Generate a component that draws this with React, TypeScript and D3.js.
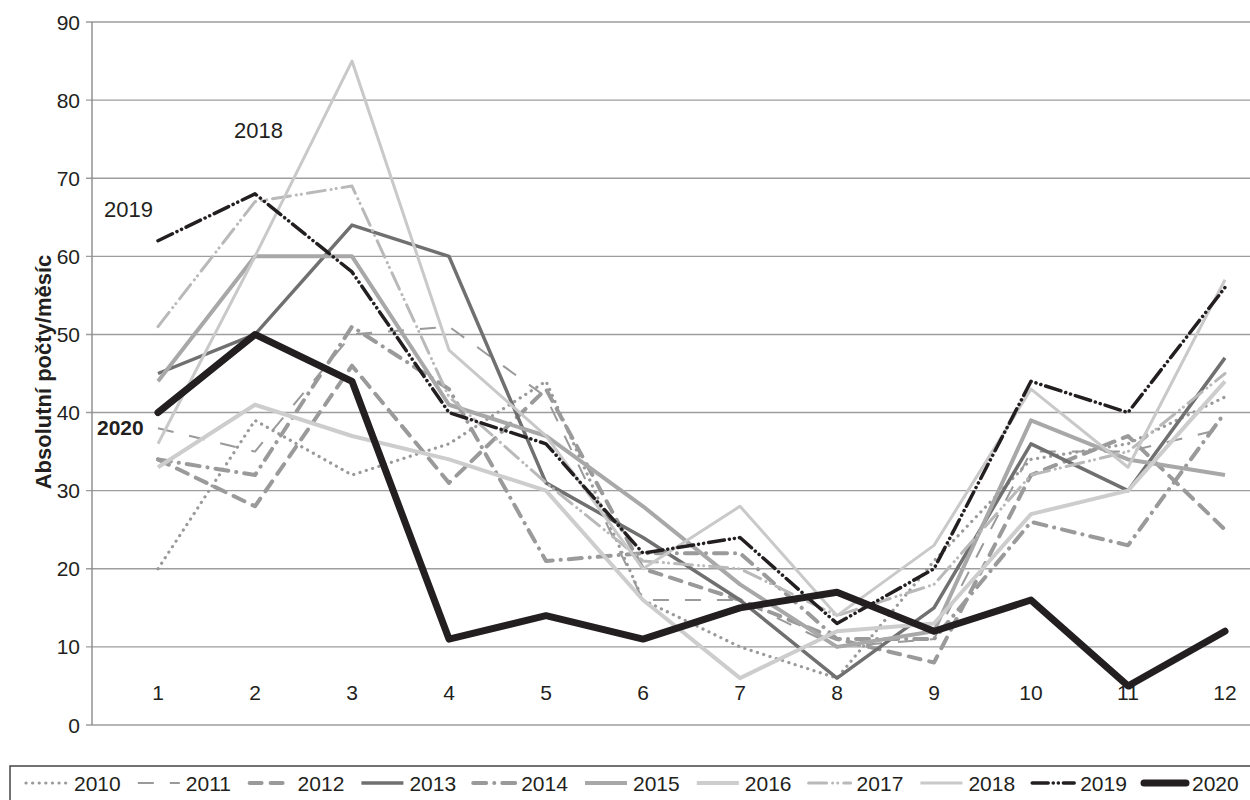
import React from "react";
import * as d3 from "d3";

const months = [1, 2, 3, 4, 5, 6, 7, 8, 9, 10, 11, 12];
const yTicks = [0, 10, 20, 30, 40, 50, 60, 70, 80, 90];

const years = ["2010", "2011", "2012", "2013", "2014", "2015", "2016", "2017", "2018", "2019", "2020"];

const v2010 = [20, 39, 32, 36, 44, 16, 10, 6, 21, 34, 36, 42];
const v2011 = [38, 35, 50, 51, 42, 16, 16, 10, 11, 35, 35, 38];
const v2012 = [34, 28, 46, 31, 43, 20, 16, 11, 8, 32, 37, 25];
const v2013 = [45, 50, 64, 60, 31, 24, 16, 6, 15, 36, 30, 47];
const v2014 = [34, 32, 51, 43, 21, 22, 22, 11, 11, 26, 23, 40];
const v2015 = [44, 60, 60, 41, 37, 28, 18, 10, 12, 39, 34, 32];
const v2016 = [33, 41, 37, 34, 30, 16, 6, 12, 13, 27, 30, 44];
const v2017 = [51, 67, 69, 42, 31, 21, 20, 14, 18, 32, 35, 45];
const v2018 = [36, 60, 85, 48, 37, 20, 28, 14, 23, 43, 33, 57];
const v2019 = [62, 68, 58, 40, 36, 22, 24, 13, 20, 44, 40, 56];
const v2020 = [40, 50, 44, 11, 14, 11, 15, 17, 12, 16, 5, 12];

const seriesValues = [v2010, v2011, v2012, v2013, v2014, v2015, v2016, v2017, v2018, v2019, v2020];

const styles = [
  { color: "#9a9a9a", width: 3.2, dash: "0.1 6.5", cap: "round" },
  { color: "#9a9a9a", width: 2, dash: "16 16", cap: "butt" },
  { color: "#9a9a9a", width: 4, dash: "12 9", cap: "round" },
  { color: "#707070", width: 3.5, dash: "", cap: "butt" },
  { color: "#9a9a9a", width: 4, dash: "13 8 0.1 8", cap: "round" },
  { color: "#a8a8a8", width: 4, dash: "", cap: "butt" },
  { color: "#cdcdcd", width: 4, dash: "", cap: "butt" },
  { color: "#b9b9b9", width: 3, dash: "18 6 0.1 5 0.1 6", cap: "round" },
  { color: "#c9c9c9", width: 3, dash: "", cap: "butt" },
  { color: "#231f20", width: 3.5, dash: "16 5 0.1 5 0.1 5", cap: "round" },
  { color: "#231f20", width: 7, dash: "", cap: "round" },
];

const FONT = "Arial, 'Liberation Sans', Helvetica, sans-serif";

export default function App() {
  const W = 1250;
  const H = 800;
  const x = d3.scaleLinear().domain([1, 12]).range([158, 1225]);
  const y = d3.scaleLinear().domain([0, 90]).range([725, 22]);
  const axisLeft = 92;
  const line = d3
    .line<number>()
    .x((_, i) => x(months[i]))
    .y((d) => y(d));

  const legendX0 = 24;
  const legendStep = 111.8;
  const legendY = 783;

  return (
    <svg
      width={W}
      height={H}
      style={{ position: "absolute", left: 0, top: 0, background: "#fff" }}
      fontFamily={FONT}
    >
      <rect x={0} y={0} width={W} height={H} fill="#fff" />
      {yTicks.map((t) => (
        <line key={t} x1={axisLeft - 6} x2={W} y1={y(t)} y2={y(t)} stroke="#9d9d9d" strokeWidth={1.4} />
      ))}
      <line x1={axisLeft} x2={axisLeft} y1={y(90)} y2={y(0)} stroke="#8a8a8a" strokeWidth={1.4} />
      {yTicks.map((t) => (
        <text key={t} x={80} y={y(t)} dy="0.36em" textAnchor="end" fontSize={21} fill="#231f20">
          {t}
        </text>
      ))}
      {months.map((m) => (
        <text key={m} x={x(m)} y={692} dy="0.36em" textAnchor="middle" fontSize={21} fill="#231f20">
          {m}
        </text>
      ))}
      <text
        transform={`translate(43, 372) rotate(-90)`}
        dy="0.35em"
        textAnchor="middle"
        fontSize={22}
        fontWeight="bold"
        fontFamily="'Liberation Sans Narrow', 'Arial Narrow', Arial, sans-serif"
        fill="#231f20"
      >
        Absolutní počty/měsíc
      </text>
      {seriesValues.map((vals, i) => (
        <path
          key={years[i]}
          d={line(vals) || ""}
          fill="none"
          stroke={styles[i].color}
          strokeWidth={styles[i].width}
          strokeDasharray={styles[i].dash || undefined}
          strokeLinecap={styles[i].cap as any}
          strokeLinejoin="round"
        />
      ))}
      <text x={234} y={138} fontSize={22} fill="#231f20">2018</text>
      <text x={104} y={217} fontSize={22} fill="#231f20">2019</text>
      <text x={97} y={435} fontSize={21} fontWeight="bold" fill="#231f20">2020</text>
      <rect x={10} y={766} width={W} height={60} fill="none" stroke="#444" strokeWidth={1.5} />
      {years.map((yr, i) => {
        const x0 = legendX0 + i * legendStep;
        return (
          <g key={yr}>
            <line
              x1={x0 + 2}
              x2={x0 + 44}
              y1={legendY}
              y2={legendY}
              stroke={styles[i].color}
              strokeWidth={styles[i].width}
              strokeDasharray={styles[i].dash || undefined}
              strokeLinecap={styles[i].cap as any}
            />
            <text x={x0 + 50} y={legendY} dy="0.36em" fontSize={21} fill="#231f20">
              {yr}
            </text>
          </g>
        );
      })}
    </svg>
  );
}
